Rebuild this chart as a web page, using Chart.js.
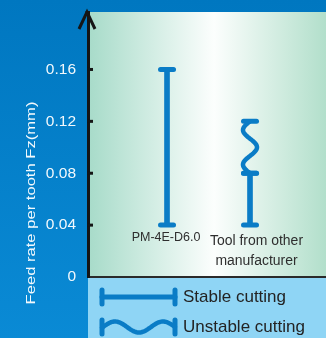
<!DOCTYPE html>
<html><head><meta charset="utf-8">
<script src="https://cdn.jsdelivr.net/npm/chart.js@4"></script>
<style>html,body{margin:0;padding:0;background:#0580c8;overflow:hidden}canvas{display:block}</style>
</head><body>
<canvas id="c" width="326" height="338"></canvas>
<script>
// ---- data ----
const categories = ['PM-4E-D6.0', ['Tool from other', 'manufacturer']];
const stableLow = [0.04, 0.04];
const stableHigh = [0.16, 0.08];
const unstableLow = [null, 0.08];
const unstableHigh = [null, 0.12];
const yTicks = [0, 0.04, 0.08, 0.12, 0.16];
const yTickLabels = ['0', '0.04', '0.08', '0.12', '0.16'];
const yMax = 0.2043;
const legendLabels = ['Stable cutting', 'Unstable cutting'];
const yTitle = 'Feed rate per tooth Fz(mm)';

const BAR = '#0a7cc6';
const FONT = 'Arial, "Liberation Sans", Helvetica, sans-serif';

const stableData = categories.map((c, i) => ({ x: i + 1, y: [stableLow[i], stableHigh[i]] }));

const deco = {
  id: 'deco',
  beforeDraw(chart) {
    const { ctx, chartArea: a, width, height } = chart;
    ctx.save();
    const bg = ctx.createLinearGradient(0, 0, 0, height);
    bg.addColorStop(0, '#0077c0');
    bg.addColorStop(1, '#0a8ad5');
    ctx.fillStyle = bg;
    ctx.fillRect(0, 0, width, height);
    const g = ctx.createLinearGradient(a.left, 0, a.right, 0);
    g.addColorStop(0, '#a7dbc9');
    g.addColorStop(0.53, '#fcfefd');
    g.addColorStop(1, '#b2dfcb');
    ctx.fillStyle = g;
    ctx.fillRect(a.left, a.top, a.right - a.left, a.bottom - a.top);
    ctx.fillStyle = '#8fd5f5';
    ctx.fillRect(a.left, a.bottom, a.right - a.left, height - a.bottom);
    ctx.restore();
  },
  afterDraw(chart) {
    const { ctx, chartArea: a } = chart;
    const xs = chart.scales.x, ys = chart.scales.y;
    ctx.save();
    // axis arrow head
    const ax = a.left - 1;
    ctx.strokeStyle = '#151515';
    ctx.lineWidth = 3;
    ctx.lineJoin = 'miter';
    ctx.beginPath();
    ctx.moveTo(ax - 8, a.top + 17);
    ctx.lineTo(ax, a.top);
    ctx.lineTo(ax + 8, a.top + 17);
    ctx.stroke();
    ctx.beginPath();
    ctx.moveTo(ax, a.top + 4);
    ctx.lineTo(ax, a.top - 1);
    ctx.stroke();
    // inner tick marks
    yTicks.slice(1).forEach(v => {
      const y = ys.getPixelForValue(v);
      ctx.beginPath();
      ctx.moveTo(ax, y);
      ctx.lineTo(ax + 6, y);
      ctx.stroke();
    });
    // caps on stable bars
    ctx.strokeStyle = BAR;
    ctx.lineCap = 'round';
    ctx.lineWidth = 5;
    const cap = (x, y) => { ctx.beginPath(); ctx.moveTo(x - 6.5, y); ctx.lineTo(x + 6.5, y); ctx.stroke(); };
    categories.forEach((c, i) => {
      const x = xs.getPixelForValue(i + 1);
      cap(x, ys.getPixelForValue(stableLow[i]));
      cap(x, ys.getPixelForValue(stableHigh[i]));
      if (unstableLow[i] != null) {
        const y0 = ys.getPixelForValue(unstableHigh[i]);
        const y1 = ys.getPixelForValue(unstableLow[i]);
        ctx.lineWidth = 4.5;
        ctx.beginPath();
        for (let k = 0; k <= 60; k++) {
          const t = k / 60;
          const px = x - 7 * Math.sin(3 * Math.PI * t);
          const py = y0 + (y1 - y0) * t;
          k ? ctx.lineTo(px, py) : ctx.moveTo(px, py);
        }
        ctx.stroke();
        ctx.lineWidth = 5;
        cap(x, y0);
        cap(x, y1);
      }
    });
    // category labels
    ctx.fillStyle = '#2e2e2e';
    ctx.textAlign = 'center';
    ctx.textBaseline = 'middle';
    ctx.font = '12.5px ' + FONT;
    ctx.fillText(categories[0], xs.getPixelForValue(1) - 1, 238);
    ctx.font = '15.5px ' + FONT;
    const lines = categories[1];
    lines.forEach((ln, j) => {
      ctx.save();
      ctx.translate(xs.getPixelForValue(2) + 6.5, 241 + j * 19.5);
      ctx.scale(0.9, 1);
      ctx.fillText(ln, 0, 0);
      ctx.restore();
    });
    // y title
    ctx.save();
    ctx.fillStyle = 'rgba(255,255,255,0.95)';
    ctx.font = '16.6px ' + FONT;
    ctx.textAlign = 'center';
    ctx.textBaseline = 'alphabetic';
    ctx.translate(35, 203);
    ctx.rotate(-Math.PI / 2);
    ctx.scale(1, 0.82);
    ctx.fillText(yTitle, 0, 0);
    ctx.restore();
    // legend
    ctx.strokeStyle = BAR;
    ctx.lineWidth = 5;
    ctx.lineCap = 'round';
    const l0 = 102, l1 = 175;
    ctx.beginPath(); ctx.moveTo(l0, 297); ctx.lineTo(l1, 297); ctx.stroke();
    ctx.beginPath(); ctx.moveTo(l0, 290); ctx.lineTo(l0, 304); ctx.stroke();
    ctx.beginPath(); ctx.moveTo(l1, 290); ctx.lineTo(l1, 304); ctx.stroke();
    ctx.lineWidth = 4.5;
    ctx.beginPath();
    for (let k = 0; k <= 80; k++) {
      const px = l0 + (l1 - l0) * k / 80;
      const py = 327 - 5.5 * Math.cos(2 * Math.PI * (px - 115) / 48);
      k ? ctx.lineTo(px, py) : ctx.moveTo(px, py);
    }
    ctx.stroke();
    ctx.lineWidth = 5;
    ctx.beginPath(); ctx.moveTo(l0, 320); ctx.lineTo(l0, 334); ctx.stroke();
    ctx.beginPath(); ctx.moveTo(l1, 320); ctx.lineTo(l1, 334); ctx.stroke();
    ctx.fillStyle = '#232323';
    ctx.font = '17px ' + FONT;
    ctx.textAlign = 'left';
    ctx.textBaseline = 'middle';
    ctx.fillText(legendLabels[0], 183, 297);
    ctx.fillText(legendLabels[1], 183, 327);
    ctx.restore();
  }
};

new Chart(document.getElementById('c'), {
  type: 'bar',
  data: {
    datasets: [{
      label: legendLabels[0],
      data: stableData,
      backgroundColor: BAR,
      borderWidth: 0,
      barThickness: 5,
      grouped: false
    }]
  },
  options: {
    responsive: false,
    animation: false,
    devicePixelRatio: 1,
    layout: { padding: { top: 12, bottom: 61, left: 0, right: 0 } },
    plugins: { legend: { display: false }, tooltip: { enabled: false } },
    scales: {
      x: {
        type: 'linear',
        offset: false,
        min: 0.048,
        max: 2.9157,
        grid: { display: false, offset: false },
        ticks: { display: false },
        border: { display: true, color: '#2a2a2a', width: 2 },
        afterFit(s) { s.height = 0; s.paddingLeft = 0; s.paddingRight = 0; }
      },
      y: {
        min: 0,
        max: yMax,
        grid: { display: false, drawTicks: false },
        border: { display: true, color: '#151515', width: 3 },
        afterBuildTicks(s) { s.ticks = yTicks.map(v => ({ value: v })); },
        ticks: {
          color: 'rgba(255,255,255,0.95)',
          padding: 12,
          font: { family: FONT, size: 15.5 },
          callback: (v, i) => yTickLabels[i]
        },
        afterFit(s) { s.width = 88; s.paddingTop = 0; s.paddingBottom = 0; }
      }
    }
  },
  plugins: [deco]
});
</script>
</body></html>
